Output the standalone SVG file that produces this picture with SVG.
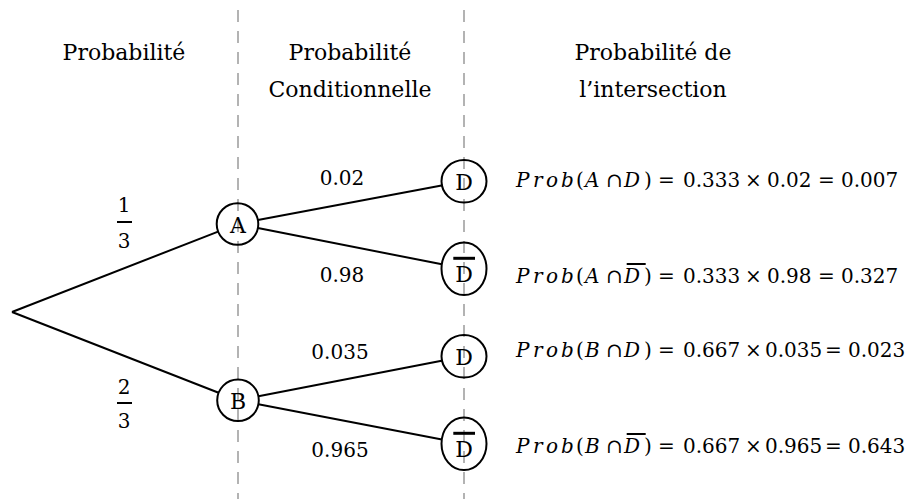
<svg xmlns="http://www.w3.org/2000/svg" width="909" height="499" viewBox="0 0 909 499">
<style>
text{font-family:"DejaVu Serif","Liberation Serif",serif;fill:#000}
.h{font-size:22px;text-anchor:middle}
.lbl{font-size:20px;text-anchor:middle}
.nd{font-size:22px;text-anchor:middle}
.f{font-size:20px}
.it{font-style:italic}
.guide{stroke:#b3b3b3;stroke-width:2;stroke-dasharray:12 9;fill:none}
.edge{stroke:#000;stroke-width:2;fill:none}
.node{stroke:#000;stroke-width:2;fill:none}
.bar{stroke:#000;fill:none}
</style>
<rect width="909" height="499" fill="#fff"/>
<g id="guides">
<line class="guide" x1="238" y1="10" x2="238" y2="499"/>
<line class="guide" x1="464" y1="10" x2="464" y2="499"/>
</g>
<g id="headers">
<text class="h" x="124" y="60">Probabilité</text>
<text class="h" x="350" y="60">Probabilité</text>
<text class="h" x="350" y="97">Conditionnelle</text>
<text class="h" x="653" y="60">Probabilité de</text>
<text class="h" x="653" y="97">l’intersection</text>
</g>
<g id="connectors">
<line class="edge" x1="12" y1="312" x2="218.1" y2="231.6"/>
<line class="edge" x1="12" y1="312" x2="218.6" y2="392.7"/>
<line class="edge" x1="257.9" y1="220.1" x2="442.9" y2="185.3"/>
<line class="edge" x1="257.9" y1="228" x2="441.9" y2="264.3"/>
<line class="edge" x1="258.4" y1="396.3" x2="442.9" y2="360.4"/>
<line class="edge" x1="258.4" y1="404.2" x2="441.9" y2="439.5"/>
</g>
<g id="edge-labels">
<text class="lbl" x="124" y="212">1</text>
<line class="bar" stroke-width="2" x1="117" y1="222" x2="132" y2="222"/>
<text class="lbl" x="124" y="248">3</text>
<text class="lbl" x="124" y="394">2</text>
<line class="bar" stroke-width="2" x1="117" y1="403" x2="132" y2="403"/>
<text class="lbl" x="124" y="428">3</text>
<text class="lbl" x="342" y="185">0.02</text>
<text class="lbl" x="342" y="282">0.98</text>
<text class="lbl" x="340" y="359">0.035</text>
<text class="lbl" x="340" y="457">0.965</text>
</g>
<g id="node-A">
<circle class="node" cx="237.5" cy="224" r="20.8"/>
<text class="nd" x="238" y="233">A</text>
</g>
<g id="node-B">
<circle class="node" cx="238" cy="400.3" r="20.8"/>
<text class="nd" x="238" y="409.3">B</text>
</g>
<g id="node-AD">
<ellipse class="node" cx="464" cy="181.3" rx="22.5" ry="21.3"/>
<text class="nd" x="464" y="189.5">D</text>
</g>
<g id="node-ADbar">
<ellipse class="node" cx="464" cy="268.7" rx="22.5" ry="26.3"/>
<line class="bar" stroke-width="3" x1="453.3" y1="258.3" x2="475" y2="258.3"/>
<text class="nd" x="464" y="281.8">D</text>
</g>
<g id="node-BD">
<ellipse class="node" cx="464" cy="356.3" rx="22.5" ry="21.3"/>
<text class="nd" x="464" y="364.5">D</text>
</g>
<g id="node-BDbar">
<ellipse class="node" cx="464" cy="443.7" rx="22.5" ry="26.3"/>
<line class="bar" stroke-width="3" x1="453.3" y1="433.3" x2="475" y2="433.3"/>
<text class="nd" x="464" y="456.8">D</text>
</g>
<g id="results">
<text class="f" y="186.7"><tspan class="it" x="516">P</tspan><tspan class="it" x="533">r</tspan><tspan class="it" x="546">o</tspan><tspan class="it" x="561">b</tspan><tspan x="576">(</tspan><tspan class="it" x="585">A</tspan><tspan x="606">∩</tspan><tspan class="it" x="624">D</tspan><tspan x="644">)</tspan><tspan x="658">=</tspan><tspan x="683">0.333</tspan><tspan x="745">×</tspan><tspan x="767">0.02</tspan><tspan x="818">=</tspan><tspan x="841">0.007</tspan></text>
<text class="f" y="283.3"><tspan class="it" x="516">P</tspan><tspan class="it" x="533">r</tspan><tspan class="it" x="546">o</tspan><tspan class="it" x="561">b</tspan><tspan x="576">(</tspan><tspan class="it" x="585">A</tspan><tspan x="606">∩</tspan><tspan class="it" x="624">D</tspan><tspan x="644">)</tspan><tspan x="658">=</tspan><tspan x="683">0.333</tspan><tspan x="745">×</tspan><tspan x="767">0.98</tspan><tspan x="818">=</tspan><tspan x="841">0.327</tspan></text>
<line class="bar" stroke-width="2" x1="626.7" y1="264" x2="645.7" y2="264"/>
<text class="f" y="356.7"><tspan class="it" x="516">P</tspan><tspan class="it" x="533">r</tspan><tspan class="it" x="546">o</tspan><tspan class="it" x="561">b</tspan><tspan x="576">(</tspan><tspan class="it" x="585">B</tspan><tspan x="606">∩</tspan><tspan class="it" x="624">D</tspan><tspan x="644">)</tspan><tspan x="658">=</tspan><tspan x="683">0.667</tspan><tspan x="745">×</tspan><tspan x="765">0.035</tspan><tspan x="825">=</tspan><tspan x="848">0.023</tspan></text>
<text class="f" y="453.3"><tspan class="it" x="516">P</tspan><tspan class="it" x="533">r</tspan><tspan class="it" x="546">o</tspan><tspan class="it" x="561">b</tspan><tspan x="576">(</tspan><tspan class="it" x="585">B</tspan><tspan x="606">∩</tspan><tspan class="it" x="624">D</tspan><tspan x="644">)</tspan><tspan x="658">=</tspan><tspan x="683">0.667</tspan><tspan x="745">×</tspan><tspan x="765">0.965</tspan><tspan x="825">=</tspan><tspan x="848">0.643</tspan></text>
<line class="bar" stroke-width="2" x1="626.7" y1="434" x2="645.7" y2="434"/>
</g>
</svg>
